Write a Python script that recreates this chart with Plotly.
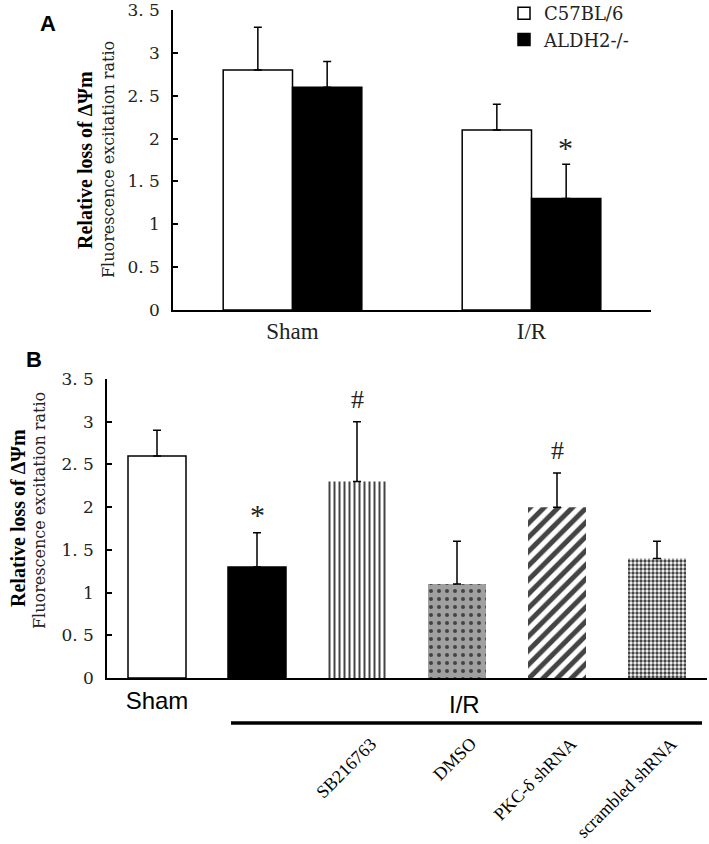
import plotly.graph_objects as go

# ---------------- data ----------------
a_groups = ["Sham", "I/R"]
a_series = ["C57BL/6", "ALDH2-/-"]
a_c57_mean = [2.8, 2.1]
a_c57_err_top = [3.3, 2.4]
a_aldh_mean = [2.6, 1.3]
a_aldh_err_top = [2.9, 1.7]

b_categories = ["Sham", "I/R", "SB216763", "DMSO", "PKC-δ shRNA", "scrambled shRNA"]
b_mean = [2.6, 1.3, 2.3, 1.1, 2.0, 1.4]
b_err_top = [2.9, 1.7, 3.0, 1.6, 2.4, 1.6]
b_marks = ["", "*", "#", "", "#", ""]
b_rot_labels = ["SB216763", "DMSO", "PKC-δ shRNA", "scrambled shRNA"]

y_tickvals = [0, 0.5, 1, 1.5, 2, 2.5, 3, 3.5]
y_ticktext = ["0", "0. 5", "1", "1. 5", "2", "2. 5", "3", "3. 5"]

W, H = 709, 844
def px(x): return x / W
def py(y): return 1 - y / H

fig = go.Figure()

# Panel A
fig.add_trace(go.Bar(
    x=a_groups, y=a_c57_mean, name=a_series[0], xaxis="x", yaxis="y",
    marker=dict(color="white", line=dict(color="black", width=1.5)),
    error_y=dict(type="data", symmetric=False,
                 array=[t - m for t, m in zip(a_c57_err_top, a_c57_mean)],
                 arrayminus=[0] * len(a_c57_mean), color="black", thickness=1.5, width=4),
))
fig.add_trace(go.Bar(
    x=a_groups, y=a_aldh_mean, name=a_series[1], xaxis="x", yaxis="y",
    marker=dict(color="black", line=dict(color="black", width=1.5)),
    error_y=dict(type="data", symmetric=False,
                 array=[t - m for t, m in zip(a_aldh_err_top, a_aldh_mean)],
                 arrayminus=[0] * len(a_aldh_mean), color="black", thickness=1.5, width=4),
))

# Panel B
fig.add_trace(go.Bar(
    x=b_categories, y=b_mean, xaxis="x2", yaxis="y2", showlegend=False,
    marker=dict(
        color=["white", "black", "white", "#a0a0a0", "white", "white"],
        line=dict(color="black", width=[1.5, 1.5, 0, 0, 0, 0]),
        pattern=dict(
            shape=["", "", "|", ".", "/", "."],
            fgcolor="black",
            fgopacity=1,
            size=[8, 8, 5, 8, 10, 4],
            solidity=[0.3, 0.3, 0.4, 0.2, 0.5, 0.55],
            fillmode="overlay",
        ),
    ),
    error_y=dict(type="data", symmetric=False,
                 array=[t - m for t, m in zip(b_err_top, b_mean)],
                 arrayminus=[0] * len(b_mean), color="black", thickness=1.5, width=4),
))

annotations = []
# significance marks
annotations.append(dict(x=a_groups[1], y=a_aldh_err_top[1], xref="x", yref="y", text="*",
                        showarrow=False, xshift=34, xanchor="center", yanchor="bottom", yshift=-2,
                        font=dict(family="Liberation Serif", size=30, color="#222")))
for cat, top, mk in zip(b_categories, b_err_top, b_marks):
    if mk:
        annotations.append(dict(x=cat, y=top, xref="x2", yref="y2", text=mk, showarrow=False,
                                xanchor="center", yanchor="bottom", yshift=(0 if mk == "*" else 6),
                                font=dict(family="Liberation Serif", size=(30 if mk == "*" else 26), color="#222")))
# rotated treatment labels
for lab in b_rot_labels:
    annotations.append(dict(x=lab, y=py(731), xref="x2", yref="paper", text=lab, textangle=-45,
                            showarrow=False, xanchor="right", yanchor="top", xshift=26,
                            font=dict(family="Liberation Serif", size=18, color="black")))
# I/R group label in B
annotations.append(dict(x=px(464), y=py(704), xref="paper", yref="paper", text="I/R", showarrow=False,
                        xanchor="center", yanchor="middle",
                        font=dict(family="Liberation Sans", size=24, color="black")))
# panel letters
annotations.append(dict(x=px(48), y=py(23), xref="paper", yref="paper", text="<b>A</b>", showarrow=False,
                        xanchor="center", yanchor="middle",
                        font=dict(family="Liberation Sans", size=22, color="black")))
annotations.append(dict(x=px(34), y=py(360), xref="paper", yref="paper", text="<b>B</b>", showarrow=False,
                        xanchor="center", yanchor="middle",
                        font=dict(family="Liberation Sans", size=22, color="black")))
# axis titles
for (bx, by, fx, fy) in [(85, 160, 109, 160), (18, 518, 39, 511)]:
    annotations.append(dict(x=px(bx), y=py(by), xref="paper", yref="paper", text="<b>Relative loss of ΔΨm</b>",
                            textangle=-90, showarrow=False, xanchor="center", yanchor="middle",
                            font=dict(family="Liberation Serif", size=20, color="black")))
    annotations.append(dict(x=px(fx), y=py(fy), xref="paper", yref="paper", text="Fluorescence excitation ratio",
                            textangle=-90, showarrow=False, xanchor="center", yanchor="middle",
                            font=dict(family="DejaVu Serif", size=16, color="#222")))

shapes = [dict(type="line", xref="paper", yref="paper", x0=px(231), x1=px(702), y0=py(723), y1=py(723),
               line=dict(color="black", width=3.5))]

yaxis_common = dict(range=[0, 3.5], tickmode="array", tickvals=y_tickvals, ticktext=y_ticktext,
                    ticks="inside", ticklen=5, tickwidth=1.5, tickcolor="black",
                    showline=True, linecolor="black", linewidth=1.5, showgrid=False, zeroline=False,
                    ticklabelstandoff=8, ticklabeloverflow="allow",
                    tickfont=dict(family="DejaVu Serif", size=17, color="#222"))

fig.update_layout(
    width=W, height=H, margin=dict(l=0, r=0, t=0, b=0, autoexpand=False),
    paper_bgcolor="white", plot_bgcolor="white",
    barmode="group",
    xaxis=dict(domain=[px(173), px(651)], range=[-0.5, 1.5], showline=True, linecolor="black", linewidth=1.5,
               ticks="", showgrid=False, anchor="y", automargin=False,
               tickfont=dict(family="Liberation Serif", size=23, color="#222")),
    yaxis=dict(domain=[py(310), py(10)], anchor="x", automargin=False, **yaxis_common),
    xaxis2=dict(domain=[px(107), px(707)], range=[-0.5, 5.5], showline=True, linecolor="black", linewidth=1.5,
                ticks="", showgrid=False, anchor="y2", automargin=False,
                tickmode="array", tickvals=[b_categories[0]], ticktext=[b_categories[0]],
                tickfont=dict(family="Liberation Sans", size=24, color="black")),
    yaxis2=dict(domain=[py(678), py(379)], anchor="x2", automargin=False, **yaxis_common),
    bargap=0.42,
    legend=dict(x=px(504), y=1.006, xanchor="left", yanchor="top", bgcolor="rgba(0,0,0,0)",
                font=dict(family="DejaVu Serif", size=18, color="#222"), tracegroupgap=0),
    annotations=annotations,
    shapes=shapes,
)

fig.write_html("out.html", config={"displayModeBar": False},
               post_script="document.body.style.margin='0';")
